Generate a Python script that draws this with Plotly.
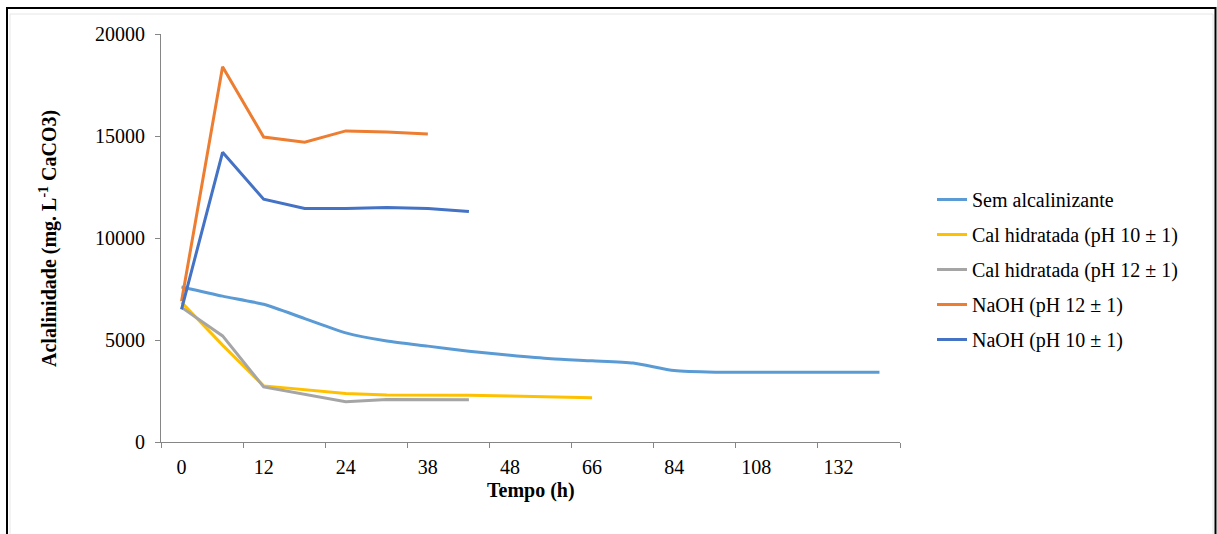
import plotly.graph_objects as go

# Categories (Excel line chart, every other label shown)
tempo = ["0", "6", "12", "18", "24", "30", "38", "42", "48", "56",
         "66", "72", "84", "96", "108", "120", "132", "144"]

sem_alcalinizante = [7600, 7150, 6750, 6050, 5350, 4950, 4700, 4450, 4250, 4080,
                     3980, 3870, 3500, 3420, 3420, 3420, 3420, 3420]
cal_ph10 = [6850, 4750, 2750, 2550, 2380, 2300, 2300, 2290, 2250, 2200, 2170]
cal_ph12 = [6600, 5200, 2700, 2350, 1970, 2080, 2080, 2070]
naoh_ph12 = [6900, 18400, 14950, 14700, 15250, 15200, 15100]
naoh_ph10 = [6500, 14200, 11900, 11450, 11450, 11500, 11450, 11300]

y_ticks = [0, 5000, 10000, 15000, 20000]

series = [
    ("Sem alcalinizante", sem_alcalinizante, "#5B9BD5", "spline"),
    ("Cal hidratada (pH 10 ± 1)", cal_ph10, "#FFC000", "linear"),
    ("Cal hidratada (pH 12 ± 1)", cal_ph12, "#A5A5A5", "linear"),
    ("NaOH (pH 12 ± 1)", naoh_ph12, "#ED7D31", "linear"),
    ("NaOH (pH 10 ± 1)", naoh_ph10, "#4472C4", "linear"),
]

FONT = "Liberation Serif"

fig = go.Figure()
for i, (name, vals, color, shape) in enumerate(series):
    fig.add_trace(go.Scatter(
        x=tempo[:len(vals)], y=vals, name=name, mode="lines",
        line=dict(color=color, width=3, shape=shape, smoothing=0.6),
        legendgroup=f"g{i}",
    ))

L, R, T, B = 161, 317, 34, 92
W, H = 1217, 534
pw = W - L - R
ph = H - T - B

def px_x(x):
    return (x - L) / pw

def px_y(y):
    return (H - B - y) / ph

fig.update_layout(
    width=W, height=H,
    margin=dict(l=L, r=R, t=T, b=B),
    paper_bgcolor="white", plot_bgcolor="white",
    font=dict(family=FONT, size=20, color="black"),
    showlegend=True,
    legend=dict(
        x=px_x(932), y=px_y(180), xanchor="left", yanchor="top",
        font=dict(family=FONT, size=20, color="black"),
        tracegroupgap=6, bgcolor="rgba(0,0,0,0)",
        traceorder="grouped",
    ),
    xaxis=dict(
        type="category", categoryorder="array", categoryarray=tempo,
        range=[-0.5, len(tempo) - 0.5],
        tickmode="linear", tick0=0, dtick=2,
        tickson="boundaries", ticks="outside", ticklen=5,
        tickcolor="#868686", linecolor="#868686", linewidth=1,
        showline=True, showgrid=False, zeroline=False,
        tickfont=dict(family=FONT, size=20, color="black"),
        ticklabelstandoff=7,
    ),
    yaxis=dict(
        range=[0, 20000], tickmode="array", tickvals=y_ticks,
        ticktext=[str(v) for v in y_ticks],
        ticks="outside", ticklen=5, tickcolor="#868686",
        linecolor="#868686", linewidth=1, showline=True,
        showgrid=False, zeroline=False,
        tickfont=dict(family=FONT, size=20, color="black"),
        ticklabelstandoff=6,
    ),
    annotations=[
        dict(text="<b>Aclalinidade (mg. L<sup>-1</sup> CaCO3)</b>",
             xref="paper", yref="paper", x=px_x(48), y=0.5,
             xanchor="center", yanchor="middle", textangle=-90,
             showarrow=False, font=dict(family=FONT, size=20, color="black")),
        dict(text="<b>Tempo (h)</b>", xref="paper", yref="paper",
             x=0.5, y=px_y(490), xanchor="center", yanchor="middle",
             showarrow=False, font=dict(family=FONT, size=20, color="black")),
    ],
    shapes=[
        dict(type="rect", xref="paper", yref="paper",
             x0=px_x(10), x1=px_x(1213), y0=px_y(545), y1=px_y(14),
             line=dict(color="#E6E6E6", width=1), layer="below"),
        dict(type="rect", xref="paper", yref="paper",
             x0=px_x(7), x1=px_x(1215.5), y0=px_y(560), y1=px_y(8),
             line=dict(color="black", width=2), layer="above"),
    ],
)

fig.write_html("out.html",
               config={"displayModeBar": False},
               post_script="document.body.style.margin='0px';document.body.style.overflow='hidden';")
